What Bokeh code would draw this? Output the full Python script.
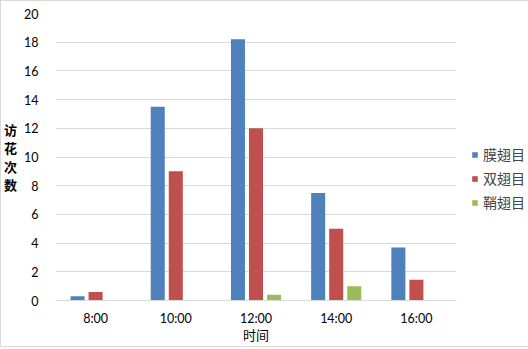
from bokeh.plotting import figure
from bokeh.models import ColumnDataSource, Legend, LegendItem, FactorRange
from bokeh.transform import dodge
from bokeh.embed import file_html
from bokeh.resources import INLINE

times = ["8:00", "10:00", "12:00", "14:00", "16:00"]
hymenoptera = [0.3, 13.5, 18.2, 7.5, 3.7]   # 膜翅目
diptera = [0.6, 9.0, 12.0, 5.0, 1.45]        # 双翅目
coleoptera = [0.0, 0.0, 0.4, 1.0, 0.0]       # 鞘翅目
series_names = ["膜翅目", "双翅目", "鞘翅目"]
colors = ["#4F81BD", "#C0504D", "#9BBB59"]
y_ticks = [0, 2, 4, 6, 8, 10, 12, 14, 16, 18, 20]

src = ColumnDataSource(dict(t=times, a=hymenoptera, b=diptera, c=coleoptera))

p = figure(x_range=FactorRange(*times), y_range=(0, 20), frame_width=401, frame_height=287,
           output_backend="svg", toolbar_location=None,
           min_border_left=47, min_border_right=70, min_border_top=12, min_border_bottom=38)

renderers = []
for key, off, col in zip(["a", "b", "c"], [-0.225, 0.0, 0.225], colors):
    r = p.vbar(x=dodge("t", off, range=p.x_range), top=key, width=0.175, source=src,
               fill_color=col, line_color=None)
    renderers.append(r)

font_lat = "Lato"
font_cjk = "Noto Sans CJK SC"

p.xgrid.grid_line_color = None
p.ygrid.grid_line_color = "#d9d9d9"
p.ygrid.grid_line_width = 1
p.outline_line_color = None
p.yaxis.ticker = y_ticks
p.yaxis.axis_line_color = None
p.yaxis.major_tick_line_color = None
p.yaxis.minor_tick_line_color = None
p.yaxis.major_label_text_font = font_lat
p.yaxis.major_label_text_font_size = "12.5px"
p.yaxis.major_label_text_color = "#000000"
p.yaxis.major_label_standoff = 11
p.yaxis.axis_label = "访\n花\n次\n数"
p.yaxis.axis_label_orientation = "horizontal"
p.yaxis.axis_label_text_font = font_cjk
p.yaxis.axis_label_text_font_style = "bold"
p.yaxis.axis_label_text_font_size = "13px"
p.yaxis.axis_label_text_line_height = 0.95
p.yaxis.axis_label_standoff = 4
p.yaxis.axis_label_text_color = "#000000"

p.xaxis.axis_line_color = "#d9d9d9"
p.xaxis.major_tick_line_color = None
p.xaxis.minor_tick_line_color = None
p.xaxis.major_label_text_font = font_lat
p.xaxis.major_label_text_font_size = "12.5px"
p.xaxis.major_label_text_color = "#000000"
p.xaxis.major_label_standoff = 4
p.xaxis.axis_label = "时间"
p.xaxis.axis_label_text_font = font_cjk
p.xaxis.axis_label_text_font_style = "normal"
p.xaxis.axis_label_text_font_size = "13px"
p.xaxis.axis_label_standoff = -4
p.xaxis.axis_label_text_color = "#000000"

legend = Legend(items=[LegendItem(label=n, renderers=[r]) for n, r in zip(series_names, renderers)],
                location=(15, 88), glyph_width=7, glyph_height=7, label_text_font=font_cjk,
                label_text_font_size="14px", label_standoff=5, spacing=4, padding=4,
                border_line_color=None, background_fill_alpha=0, margin=0)
p.add_layout(legend, "right")

p.styles = {"border": "1px solid #d9d9d9"}

open("out.html", "w").write(file_html(p, INLINE))
